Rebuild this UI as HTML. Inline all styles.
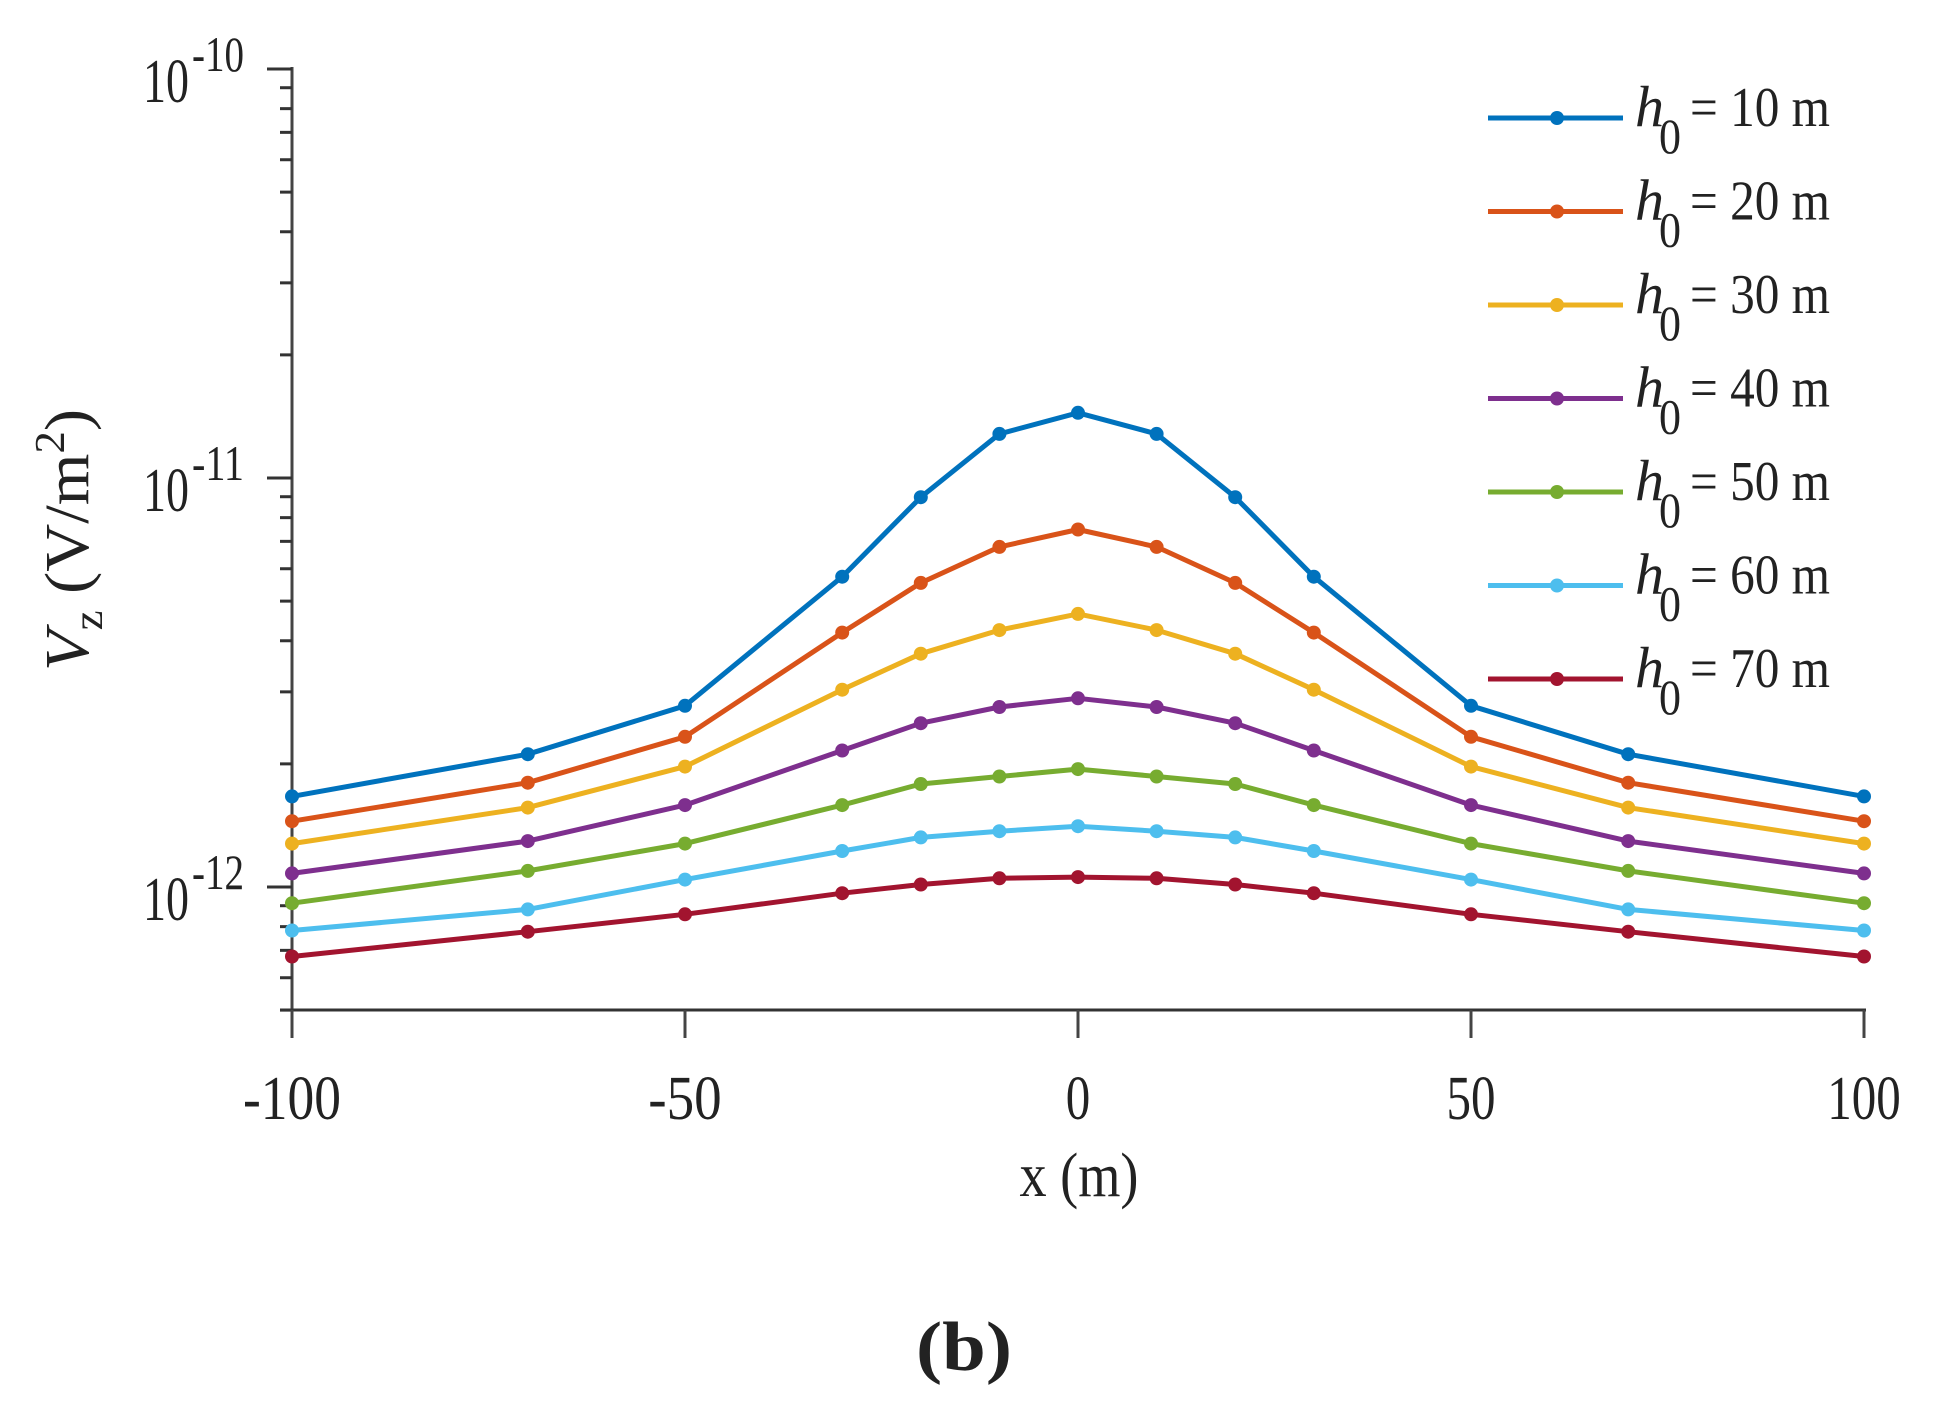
<!DOCTYPE html>
<html><head><meta charset="utf-8"><style>
html,body{margin:0;padding:0;background:#fff;}
svg{display:block;}
text{font-family:"Liberation Serif",serif;fill:#222;}
</style></head><body>
<svg id="s" width="1937" height="1419" viewBox="0 0 1937 1419" xmlns="http://www.w3.org/2000/svg"></svg>
<script>
var s=document.getElementById('s');var h='';
var X0=292,XS=7.86,Y12=887,DEC=409;
function X(v){return X0+(v+100)*XS;}
function Yl(l){return Y12-DEC*(l+12);}
h+='<line x1="292" y1="67" x2="292" y2="1011" stroke="#444" stroke-width="3"/>';
h+='<line x1="280" y1="1010" x2="1866" y2="1010" stroke="#333" stroke-width="3"/>';
for(var d=-12;d<=-10;d++){var y=Yl(d);h+='<line x1="267" y1="'+y+'" x2="292" y2="'+y+'" stroke="#333" stroke-width="3"/>';
 if(d<-10){for(var k=2;k<=9;k++){var yy=Yl(d+Math.log10(k));h+='<line x1="280" y1="'+yy+'" x2="292" y2="'+yy+'" stroke="#333" stroke-width="3"/>';}}}
for(var k=5;k<=9;k++){var yy=Yl(-13+Math.log10(k));h+='<line x1="280" y1="'+yy+'" x2="292" y2="'+yy+'" stroke="#333" stroke-width="3"/>';}
[-10,-11,-12].forEach(function(d){var y=Yl(d);
 h+='<text x="143" y="'+(y+33)+'" font-size="62" textLength="46" lengthAdjust="spacingAndGlyphs">10</text>';
 h+='<text x="192" y="'+(y+2)+'" font-size="50" textLength="52" lengthAdjust="spacingAndGlyphs">'+d+'</text>';});
[-100,-50,0,50,100].forEach(function(v){var x=X(v);h+='<line x1="'+x+'" y1="1010" x2="'+x+'" y2="1038" stroke="#444" stroke-width="3"/>';
 var t=String(v);var w=t.length*24.5;h+='<text x="'+x+'" y="1119" font-size="62" text-anchor="middle" textLength="'+w+'" lengthAdjust="spacingAndGlyphs">'+t+'</text>';});
h+='<text x="1079" y="1196" font-size="62" text-anchor="middle" textLength="119" lengthAdjust="spacingAndGlyphs">x (m)</text>';
h+='<text x="964" y="1370" font-size="70" text-anchor="middle" font-weight="bold" textLength="96" lengthAdjust="spacingAndGlyphs">(b)</text>';
h+='<g transform="translate(88,540) rotate(-90)"><text x="0" y="0" font-size="62" text-anchor="middle" textLength="262" lengthAdjust="spacingAndGlyphs"><tspan font-style="italic">V</tspan><tspan font-size="42" dy="14">z</tspan><tspan dy="-14"> (V/m</tspan><tspan font-size="42" dy="-24">2</tspan><tspan dy="24">)</tspan></text></g>';
var xs=[-100,-70,-50,-30,-20,-10,0,10,20,30,50,70,100];
var sh=[[643,609,570,466,402,351,334],[663,632,595,511,471,442,428],[681,652,619,557,528,509,496],[705,679,650,606,584,571,564],[729,703,681,650,633,627,621],[751,734,710,687,676,671,667],[772,752,738,721,714,709,708]];
var col=['#0072BD','#D95319','#EDB120','#7E2F8E','#77AC30','#4DBEEE','#A2142F'];
sh.forEach(function(a,i){var full=a.concat(a.slice(0,6).reverse());var pts=[];
 full.forEach(function(sv,j){pts.push([X(xs[j]),69+(sv-57)*1.2413]);});
 h+='<polyline fill="none" stroke="'+col[i]+'" stroke-width="5" stroke-linejoin="round" points="'+pts.map(function(p){return p[0].toFixed(1)+','+p[1].toFixed(1);}).join(' ')+'"/>';
 pts.forEach(function(p){h+='<circle cx="'+p[0].toFixed(1)+'" cy="'+p[1].toFixed(1)+'" r="7" fill="'+col[i]+'"/>';});
 var ly=118+i*93.5;
 h+='<line x1="1488" y1="'+ly+'" x2="1623" y2="'+ly+'" stroke="'+col[i]+'" stroke-width="5"/>';
 h+='<circle cx="1557" cy="'+ly+'" r="7" fill="'+col[i]+'"/>';
 h+='<text x="1635" y="'+(ly+8)+'" font-size="58" font-style="italic">h</text>';
 h+='<text x="1659" y="'+(ly+35)+'" font-size="50" textLength="22" lengthAdjust="spacingAndGlyphs">0</text>';
 h+='<text x="1690" y="'+(ly+8)+'" font-size="56" textLength="140" lengthAdjust="spacingAndGlyphs">= '+((i+1)*10)+' m</text>';
});
s.innerHTML=h;
</script>
</body></html>
